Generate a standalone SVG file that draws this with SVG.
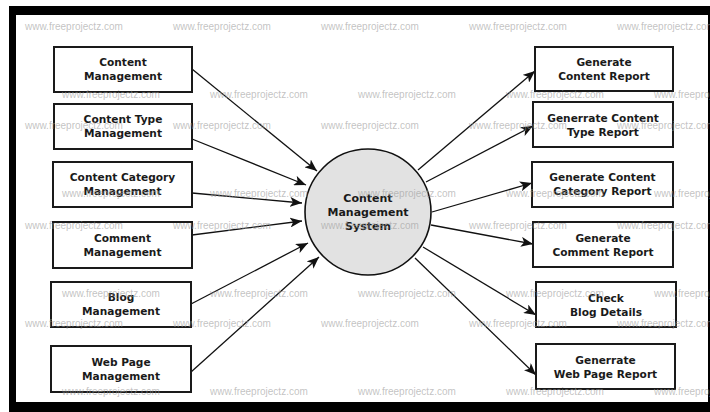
<svg xmlns="http://www.w3.org/2000/svg" width="710" height="412" viewBox="0 0 710 412">
<defs>
<style>
.box{fill:#fff;stroke:#1a1a1a;stroke-width:2}
.lbl{font-family:"DejaVu Sans",Verdana,sans-serif;font-weight:bold;font-size:10.6px;fill:#1a1a1a;text-anchor:middle}
.clbl{font-family:"DejaVu Sans",Verdana,sans-serif;font-weight:bold;font-size:11px;fill:#1a1a1a;text-anchor:middle}
.edge{stroke:#111;stroke-width:1.3;fill:none;marker-end:url(#ah)}
.wm{font-family:"Liberation Sans",Arial,sans-serif;font-size:10px;fill:#9a9a9a;fill-opacity:0.6}
</style>
<marker id="ah" viewBox="0 0 12 10" refX="12" refY="5" markerWidth="12" markerHeight="10" orient="auto" markerUnits="userSpaceOnUse">
<path d="M0,0 L12,5 L0,10 L3,5 z" fill="#111"/>
</marker>
</defs>
<rect x="0" y="0" width="710" height="412" fill="#fff"/>
<rect x="9" y="6" width="701" height="406" fill="#000"/>
<rect x="16" y="15" width="692" height="387" fill="#fff"/>

<g id="connectors">
<line class="edge" x1="192" y1="69" x2="317" y2="171"/>
<line class="edge" x1="192" y1="139" x2="306" y2="185"/>
<line class="edge" x1="192" y1="193" x2="302" y2="203"/>
<line class="edge" x1="192" y1="235" x2="302" y2="221"/>
<line class="edge" x1="191" y1="304" x2="308" y2="243"/>
<line class="edge" x1="191" y1="372" x2="319" y2="257"/>
<line class="edge" x1="418" y1="170" x2="535" y2="71"/>
<line class="edge" x1="426" y1="182" x2="533" y2="126"/>
<line class="edge" x1="432" y1="212" x2="532" y2="183"/>
<line class="edge" x1="431" y1="225" x2="533" y2="244"/>
<line class="edge" x1="423" y1="247" x2="536" y2="315"/>
<line class="edge" x1="415" y1="258" x2="536" y2="375"/>
</g>

<g id="cms">
<circle cx="368" cy="212" r="63" fill="#e2e2e2" stroke="#111" stroke-width="1.6"/>
<text class="clbl" x="368" y="202">Content</text>
<text class="clbl" x="368" y="216">Management</text>
<text class="clbl" x="368" y="230">System</text>
</g>

<g id="content-management">
<rect class="box" x="54" y="47" width="138" height="45"/>
<text class="lbl" x="123" y="66.3">Content</text>
<text class="lbl" x="123" y="80.3">Management</text>
</g>
<g id="content-type-management">
<rect class="box" x="54" y="104" width="138" height="45"/>
<text class="lbl" x="123" y="123.3">Content Type</text>
<text class="lbl" x="123" y="137.3">Management</text>
</g>
<g id="content-category-management">
<rect class="box" x="53" y="162" width="139" height="45"/>
<text class="lbl" x="122.5" y="181.3">Content Category</text>
<text class="lbl" x="122.5" y="195.3">Management</text>
</g>
<g id="comment-management">
<rect class="box" x="53" y="222" width="139" height="46"/>
<text class="lbl" x="122.5" y="241.8">Comment</text>
<text class="lbl" x="122.5" y="255.8">Management</text>
</g>
<g id="blog-management">
<rect class="box" x="51" y="282" width="140" height="45"/>
<text class="lbl" x="121" y="301.3">Blog</text>
<text class="lbl" x="121" y="315.3">Management</text>
</g>
<g id="web-page-management">
<rect class="box" x="51" y="346" width="140" height="46"/>
<text class="lbl" x="121" y="365.8">Web Page</text>
<text class="lbl" x="121" y="379.8">Management</text>
</g>

<g id="generate-content-report">
<rect class="box" x="535" y="47" width="138" height="44"/>
<text class="lbl" x="604" y="65.8">Generate</text>
<text class="lbl" x="604" y="79.8">Content Report</text>
</g>
<g id="generrate-content-type-report">
<rect class="box" x="533" y="102" width="140" height="45"/>
<text class="lbl" x="603" y="121.5">Generrate Content</text>
<text class="lbl" x="603" y="135.5">Type Report</text>
</g>
<g id="generate-content-category-report">
<rect class="box" x="532" y="162" width="141" height="45"/>
<text class="lbl" x="602.5" y="181.3">Generate Content</text>
<text class="lbl" x="602.5" y="195.3">Category Report</text>
</g>
<g id="generate-comment-report">
<rect class="box" x="533" y="222" width="140" height="45"/>
<text class="lbl" x="603" y="241.5">Generate</text>
<text class="lbl" x="603" y="255.5">Comment Report</text>
</g>
<g id="check-blog-details">
<rect class="box" x="536" y="282" width="140" height="45"/>
<text class="lbl" x="606" y="301.5">Check</text>
<text class="lbl" x="606" y="315.5">Blog Details</text>
</g>
<g id="generrate-web-page-report">
<rect class="box" x="536" y="344" width="139" height="45"/>
<text class="lbl" x="605.5" y="363.5">Generrate</text>
<text class="lbl" x="605.5" y="377.5">Web Page Report</text>
</g>

<g id="watermark" class="wm">
<text x="25" y="29.5">www.freeprojectz.com</text>
<text x="173" y="29.5">www.freeprojectz.com</text>
<text x="321" y="29.5">www.freeprojectz.com</text>
<text x="469" y="29.5">www.freeprojectz.com</text>
<text x="617" y="29.5">www.freeprojectz.com</text>
<text x="62" y="97.5">www.freeprojectz.com</text>
<text x="210" y="97.5">www.freeprojectz.com</text>
<text x="358" y="97.5">www.freeprojectz.com</text>
<text x="506" y="97.5">www.freeprojectz.com</text>
<text x="654" y="97.5">www.freeprojectz.com</text>
<text x="25" y="128.5">www.freeprojectz.com</text>
<text x="173" y="128.5">www.freeprojectz.com</text>
<text x="321" y="128.5">www.freeprojectz.com</text>
<text x="469" y="128.5">www.freeprojectz.com</text>
<text x="617" y="128.5">www.freeprojectz.com</text>
<text x="62" y="196.5">www.freeprojectz.com</text>
<text x="210" y="196.5">www.freeprojectz.com</text>
<text x="358" y="196.5">www.freeprojectz.com</text>
<text x="506" y="196.5">www.freeprojectz.com</text>
<text x="654" y="196.5">www.freeprojectz.com</text>
<text x="25" y="228.5">www.freeprojectz.com</text>
<text x="173" y="228.5">www.freeprojectz.com</text>
<text x="321" y="228.5">www.freeprojectz.com</text>
<text x="469" y="228.5">www.freeprojectz.com</text>
<text x="617" y="228.5">www.freeprojectz.com</text>
<text x="62" y="296.5">www.freeprojectz.com</text>
<text x="210" y="296.5">www.freeprojectz.com</text>
<text x="358" y="296.5">www.freeprojectz.com</text>
<text x="506" y="296.5">www.freeprojectz.com</text>
<text x="654" y="296.5">www.freeprojectz.com</text>
<text x="25" y="326.5">www.freeprojectz.com</text>
<text x="173" y="326.5">www.freeprojectz.com</text>
<text x="321" y="326.5">www.freeprojectz.com</text>
<text x="469" y="326.5">www.freeprojectz.com</text>
<text x="617" y="326.5">www.freeprojectz.com</text>
<text x="62" y="394.5">www.freeprojectz.com</text>
<text x="210" y="394.5">www.freeprojectz.com</text>
<text x="358" y="394.5">www.freeprojectz.com</text>
<text x="506" y="394.5">www.freeprojectz.com</text>
<text x="654" y="394.5">www.freeprojectz.com</text>
</g>
</svg>
